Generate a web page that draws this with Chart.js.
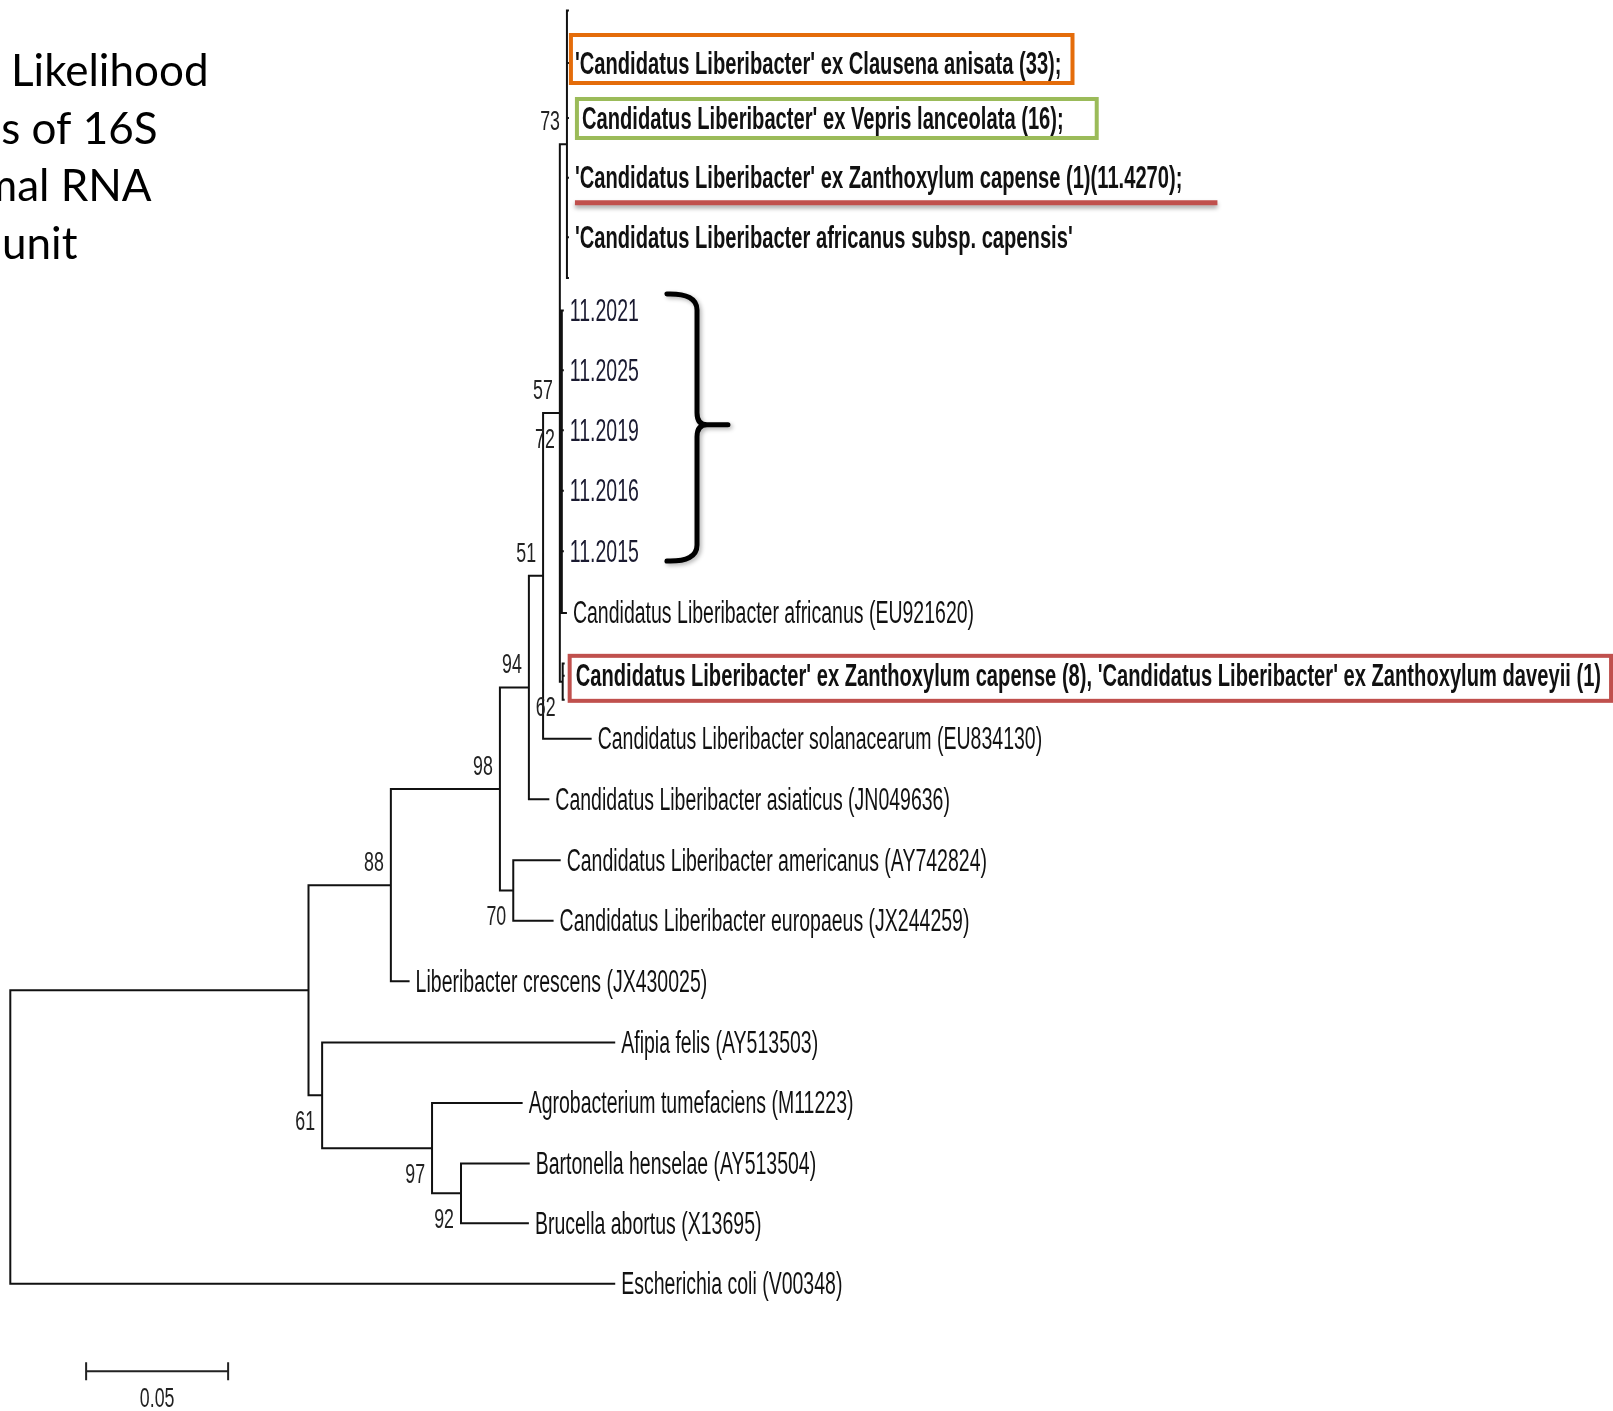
<!DOCTYPE html>
<html>
<head>
<meta charset="utf-8">
<script src="https://cdn.jsdelivr.net/npm/chart.js@4"></script>
<style>
  html, body { margin: 0; padding: 0; background: #fff; }
  #wrap { width: 1613px; height: 1411px; position: relative; }
</style>
</head>
<body>
<div id="wrap"><canvas id="treeChart"></canvas></div>
<script>
// leaves: name, row (top to bottom), distance from root (subst./site)
const leafNames = [
    "",
    "'Candidatus Liberibacter' ex Clausena anisata (33);",
    "Candidatus Liberibacter' ex Vepris lanceolata (16);",
    "'Candidatus Liberibacter' ex Zanthoxylum capense (1)(11.4270);",
    "'Candidatus Liberibacter africanus subsp. capensis'",
    "",
    "11.2021",
    "11.2025",
    "11.2019",
    "11.2016",
    "11.2015",
    "Candidatus Liberibacter africanus (EU921620)",
    "",
    "Candidatus Liberibacter' ex Zanthoxylum capense (8), 'Candidatus Liberibacter' ex Zanthoxylum daveyii (1)",
    "",
    "Candidatus Liberibacter solanacearum (EU834130)",
    "Candidatus Liberibacter asiaticus (JN049636)",
    "Candidatus Liberibacter americanus (AY742824)",
    "Candidatus Liberibacter europaeus (JX244259)",
    "Liberibacter crescens (JX430025)",
    "Afipia felis (AY513503)",
    "Agrobacterium tumefaciens (M11223)",
    "Bartonella henselae (AY513504)",
    "Brucella abortus (X13695)",
    "Escherichia coli (V00348)"
];
const leafRows = [-0.86, 0, 0.90, 1.88, 2.85, 3.52, 4.05, 5.03, 6.01, 7.00, 7.99, 9.00,
    9.83, 10.03, 10.42, 11.06, 12.05, 13.05, 14.04, 15.03, 16.03, 17.02, 18.01, 18.99, 19.98];
const leafDepths = [0.1967, 0.1967, 0.1967, 0.1967, 0.1967, 0.1967, 0.1949, 0.1949, 0.1949, 0.1949, 0.1949, 0.1960,
    0.1952, 0.1952, 0.1952, 0.2047, 0.1898, 0.1938, 0.1913, 0.1406, 0.2130, 0.1804, 0.1829, 0.1826, 0.2130];

// internal nodes; children are node names or leaf indexes
const nodeNames = ['root', 'n1', 'n88', 'n98', 'n70', 'n94', 'n51', 'n57', 'n73', 'n72', 'n62', 'n61', 'n97', 'n92'];
const nodeDepths = [0, 0.1050, 0.1340, 0.1724, 0.1771, 0.1826, 0.1876, 0.1935, 0.1960, 0.1942, 0.1945, 0.1098, 0.1485, 0.1587];
const nodeChildren = [
    ['n1', 24],
    ['n88', 'n61'],
    ['n98', 19],
    ['n94', 'n70'],
    [17, 18],
    ['n51', 16],
    ['n57', 15],
    ['n73', 'n72', 'n62'],
    [0, 1, 2, 3, 4, 5],
    [6, 7, 8, 9, 10, 11],
    [12, 13, 14],
    [20, 'n97'],
    [21, 'n92'],
    [22, 23]
];
const nodeSupport = [null, null, 88, 98, 70, 94, 51, 57, 73, 72, 62, 61, 97, 92];

const scaleBarStart = 0.0267;
const scaleBarLength = 0.05;
const scaleBarRow = 21.41;

const titleLines = ["Likelihood", "es of 16S", "mal RNA", "unit"];

// ---- styles ----
const supportBelow = ['n70', 'n62', 'n61', 'n97', 'n92'];
const boldLeaves = [1, 2, 3, 4, 13];
const darkLeaves = [6, 7, 8, 9, 10];
const labelShift = { 2: 7, 13: 5 };
const labelGap = 6;
const fontFamily = '"Liberation Sans", Arial, sans-serif';

// node y = middle of its children
function childY(c) {
    return typeof c === 'number' ? leafRows[c] : nodeY(c);
}
function childDepth(c) {
    return typeof c === 'number' ? leafDepths[c] : nodeDepths[nodeNames.indexOf(c)];
}
function nodeY(name) {
    const ys = nodeChildren[nodeNames.indexOf(name)].map(childY);
    return (Math.min(...ys) + Math.max(...ys)) / 2;
}

const branchData = [];
nodeNames.forEach((name, i) => {
    const px = nodeDepths[i], py = nodeY(name);
    nodeChildren[i].forEach(c => {
        const cy = childY(c);
        branchData.push({ x: px, y: py }, { x: px, y: cy }, { x: childDepth(c), y: cy }, { x: null, y: null });
    });
});

// condensed, tall text like the MEGA export
function narrowText(ctx, text, x, y, o) {
    const sx = o.bold ? 0.876 : 0.848;
    ctx.save();
    ctx.translate(x, y + 2);
    ctx.scale(sx, 1.35);
    ctx.font = (o.bold ? 'bold ' : '') + o.size + 'px ' + fontFamily;
    ctx.fillStyle = o.color || '#111';
    ctx.textAlign = o.align || 'left';
    ctx.textBaseline = 'middle';
    ctx.fillText(text, 0, 0);
    const w = ctx.measureText(text).width * sx;
    ctx.restore();
    return w;
}

const treeText = {
    id: 'treeText',
    afterDatasetsDraw(chart) {
        const ctx = chart.ctx;
        const xs = chart.scales.x, ys = chart.scales.y;
        const pos = [];

        leafNames.forEach((name, i) => {
            if (!name) return;
            const x = xs.getPixelForValue(leafDepths[i]) + labelGap + (labelShift[i] || 0);
            const y = ys.getPixelForValue(leafRows[i]);
            const w = narrowText(ctx, name, x, y, {
                size: 23,
                bold: boldLeaves.includes(i),
                color: darkLeaves.includes(i) ? '#1a1a30' : '#111'
            });
            pos[i] = { x, y, w };
        });

        nodeNames.forEach((name, i) => {
            if (nodeSupport[i] == null) return;
            const x = xs.getPixelForValue(nodeDepths[i]) - 7;
            const y = ys.getPixelForValue(nodeY(name)) + (supportBelow.includes(name) ? 25 : -24);
            narrowText(ctx, String(nodeSupport[i]), x, y, { size: 21, align: 'right', color: '#222' });
        });

        // highlight boxes
        ctx.save();
        ctx.lineWidth = 4;
        let p = pos[1];
        ctx.strokeStyle = '#E46C0A';
        ctx.strokeRect(p.x - 4, p.y - 28, p.w + 15, 48);
        p = pos[2];
        ctx.strokeStyle = '#9BBB59';
        ctx.strokeRect(p.x - 5, p.y - 19, p.w + 38, 39);
        p = pos[13];
        ctx.strokeStyle = '#C0504D';
        ctx.strokeRect(p.x - 6, p.y - 20, p.w + 16, 45);
        p = pos[3];
        ctx.shadowColor = 'rgba(0,0,0,0.35)';
        ctx.shadowBlur = 4;
        ctx.shadowOffsetY = 3;
        ctx.lineWidth = 5;
        ctx.beginPath();
        ctx.moveTo(p.x, p.y + 25);
        ctx.lineTo(p.x + p.w + 35, p.y + 25);
        ctx.stroke();
        ctx.restore();

        // curly brace beside the 11.20xx samples
        const bx0 = xs.getPixelForValue(0.2312), bxs = xs.getPixelForValue(0.2418), bxt = xs.getPixelForValue(0.2527);
        const byT = ys.getPixelForValue(3.78), byM = ys.getPixelForValue(5.92), byB = ys.getPixelForValue(8.15);
        ctx.save();
        ctx.strokeStyle = '#000';
        ctx.lineWidth = 5;
        ctx.lineCap = 'round';
        ctx.shadowColor = 'rgba(0,0,0,0.3)';
        ctx.shadowBlur = 4;
        ctx.shadowOffsetX = 2;
        ctx.shadowOffsetY = 2;
        ctx.beginPath();
        ctx.moveTo(bx0, byT);
        ctx.quadraticCurveTo(bxs, byT - 1, bxs, byT + 16);
        ctx.lineTo(bxs, byM - 12);
        ctx.quadraticCurveTo(bxs, byM, bxs + 10, byM);
        ctx.lineTo(bxt, byM);
        ctx.moveTo(bxs + 10, byM);
        ctx.quadraticCurveTo(bxs, byM, bxs, byM + 12);
        ctx.lineTo(bxs, byB - 16);
        ctx.quadraticCurveTo(bxs, byB + 1, bx0, byB);
        ctx.stroke();
        ctx.restore();

        // scale bar
        const sx1 = xs.getPixelForValue(scaleBarStart), sx2 = xs.getPixelForValue(scaleBarStart + scaleBarLength);
        const sy = ys.getPixelForValue(scaleBarRow);
        ctx.save();
        ctx.strokeStyle = '#222';
        ctx.lineWidth = 2;
        ctx.beginPath();
        ctx.moveTo(sx1, sy); ctx.lineTo(sx2, sy);
        ctx.moveTo(sx1, sy - 9); ctx.lineTo(sx1, sy + 9);
        ctx.moveTo(sx2, sy - 9); ctx.lineTo(sx2, sy + 9);
        ctx.stroke();
        ctx.restore();
        narrowText(ctx, '0.05', (sx1 + sx2) / 2, sy + 26, { size: 21, align: 'center', color: '#222' });

        // cropped slide title
        ctx.save();
        ctx.font = '44px Lato, "Open Sans", sans-serif';
        ctx.fillStyle = '#000';
        ctx.textBaseline = 'middle';
        const titleX = [11, -22, -19, 2];
        titleLines.forEach((t, i) => ctx.fillText(t, titleX[i], 72 + i * 57.6));
        ctx.restore();
    }
};

const ctx = document.getElementById('treeChart').getContext('2d');
const chart = new Chart(ctx, {
    type: 'scatter',
    data: {
        datasets: [{
            label: 'branches',
            data: branchData,
            showLine: true,
            spanGaps: false,
            borderColor: '#111',
            borderWidth: 2,
            pointRadius: 0,
            fill: false
        }]
    },
    options: {
        responsive: true,
        maintainAspectRatio: false,
        animation: false,
        devicePixelRatio: 1,
        layout: { padding: 0 },
        plugins: { legend: { display: false }, tooltip: { enabled: false } },
        scales: {
            x: { type: 'linear', display: false, min: -0.003627, max: 0.564331 },
            y: { type: 'linear', display: false, reverse: true, min: -1.0311, max: 22.0622 }
        }
    },
    plugins: [treeText]
});
</script>
</body>
</html>
